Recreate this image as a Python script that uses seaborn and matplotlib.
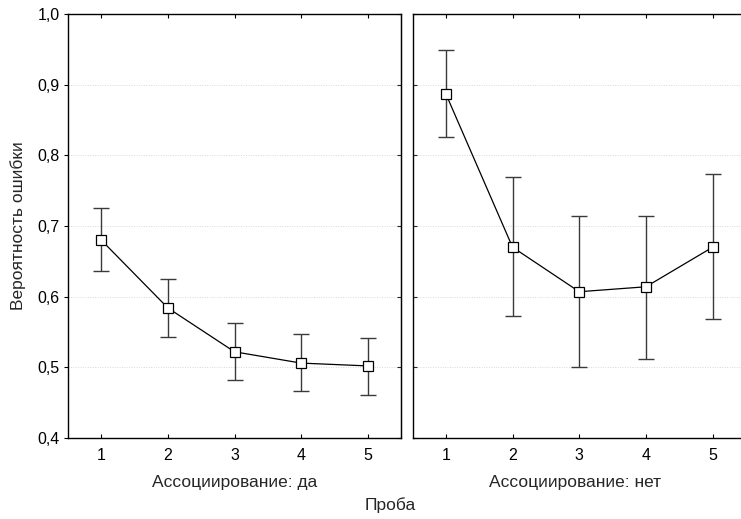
import matplotlib
matplotlib.use("Agg")
import matplotlib.pyplot as plt
import seaborn as sns
import pandas as pd
from matplotlib.ticker import FuncFormatter

trials = [1, 2, 3, 4, 5]
panels = ["Ассоциирование: да", "Ассоциирование: нет"]
mean_da = [0.680, 0.584, 0.522, 0.506, 0.502]
low_da = [0.636, 0.543, 0.482, 0.467, 0.461]
high_da = [0.725, 0.625, 0.563, 0.547, 0.542]
mean_net = [0.887, 0.670, 0.607, 0.614, 0.670]
low_net = [0.826, 0.573, 0.500, 0.512, 0.568]
high_net = [0.949, 0.769, 0.714, 0.714, 0.774]
yticks = [0.4, 0.5, 0.6, 0.7, 0.8, 0.9, 1.0]

sns.set_style("white")
plt.rcParams['font.family'] = ['Liberation Sans', 'DejaVu Sans']

W, H = 741, 519
fig = plt.figure(figsize=(W / 100, H / 100), dpi=100)
bottom = (H - 438) / H
height = 424 / H
ax1 = fig.add_axes([68 / W, bottom, 333 / W, height])
ax2 = fig.add_axes([412.5 / W, bottom, 333.5 / W, height])

fmt = FuncFormatter(lambda v, p: f"{v:.1f}".replace(".", ","))

for ax, m, lo, hi in [(ax1, mean_da, low_da, high_da),
                      (ax2, mean_net, low_net, high_net)]:
    df = pd.DataFrame({"Проба": trials, "p": m})
    yerr = [[a - b for a, b in zip(m, lo)], [b - a for a, b in zip(m, hi)]]
    ax.errorbar(trials, m, yerr=yerr, fmt="none", ecolor="#3a3a3a",
                elinewidth=1.0, capsize=6, capthick=1.0, zorder=2)
    sns.lineplot(data=df, x="Проба", y="p", ax=ax, color="black", lw=0.9,
                 marker="s", markersize=7, markerfacecolor="white",
                 markeredgecolor="black", markeredgewidth=0.9, zorder=3)
    ax.set_xlim(0.5, 5.5)
    ax.set_ylim(0.4, 1.0)
    ax.set_xticks(trials)
    ax.set_yticks(yticks)
    ax.yaxis.set_major_formatter(fmt)
    for y in yticks[1:-1]:
        ax.axhline(y, color="#d8d8d8", lw=0.7, ls=(0, (1, 1.5)), zorder=0)
    for s in ax.spines.values():
        s.set_color("black")
        s.set_linewidth(1.0)
    ax.tick_params(axis="x", direction="in", length=3, width=0.8, top=True,
                   bottom=True, labelsize=11.5, colors="black", pad=7)
    ax.set_xlabel("")
    ax.set_ylabel("")

ax1.tick_params(axis="y", direction="out", length=3, width=0.8, left=True,
                right=False, labelsize=11.5, colors="black", pad=3)
sec = ax1.secondary_yaxis("right")
sec.set_yticks(yticks)
sec.tick_params(direction="in", length=3, width=0.8, labelright=False)
ax2.tick_params(axis="y", direction="in", length=3, width=0.8, left=True,
                right=True, labelleft=False)

ax1.set_ylabel("Вероятность ошибки", fontsize=12.5, labelpad=8)

fig.text((68 + 333 / 2) / W, 1 - 482 / H, panels[0], ha="center", va="center", fontsize=12.5)
fig.text(575 / W, 1 - 482 / H, panels[1], ha="center", va="center", fontsize=12.5)
fig.text(390 / W, 1 - 505 / H, "Проба", ha="center", va="center", fontsize=12.5)

fig.savefig("out.png", dpi=100)
